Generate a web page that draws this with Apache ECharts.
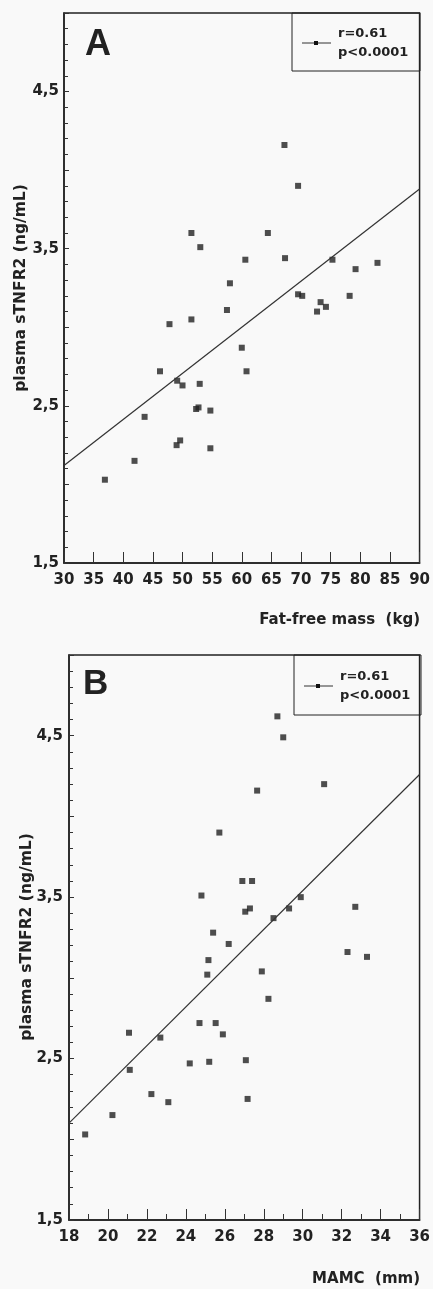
<!DOCTYPE html>
<html>
<head>
<meta charset="utf-8">
<script src="https://cdn.jsdelivr.net/npm/echarts@6/dist/echarts.min.js"></script>
<style>
  html, body { margin: 0; padding: 0; background: #f9f9f9; }
  #chart { width: 433px; height: 1289px; }
</style>
</head>
<body>
<div id="chart"></div>
<script>
// Panel A: fat-free mass (kg) vs plasma sTNFR2 (ng/mL)
const ffmA = [67.2, 69.5, 51.5, 53.0, 64.4, 60.6, 67.3, 75.3, 82.9, 79.2, 58.0, 69.5, 70.2, 78.2,
  73.3, 74.2, 72.7, 57.5, 51.5, 47.8, 60.0, 46.2, 60.8, 49.1, 50.0, 52.9, 52.3, 52.7, 54.7, 43.6,
  49.0, 49.6, 54.7, 41.9, 36.9];
const tnfA = [4.16, 3.90, 3.60, 3.51, 3.60, 3.43, 3.44, 3.43, 3.41, 3.37, 3.28, 3.21, 3.20, 3.20,
  3.16, 3.13, 3.10, 3.11, 3.05, 3.02, 2.87, 2.72, 2.72, 2.66, 2.63, 2.64, 2.48, 2.49, 2.47, 2.43,
  2.25, 2.28, 2.23, 2.15, 2.03];
const fitA = [[30, 2.12], [90, 3.88]];

// Panel B: mid-arm muscle circumference (mm) vs plasma sTNFR2 (ng/mL)
const mamcB = [28.7, 29.0, 31.1, 27.66, 25.72, 26.9, 27.4, 24.8, 29.9, 27.05, 27.29, 29.3, 32.7,
  28.5, 25.4, 26.2, 32.3, 33.3, 25.16, 27.9, 25.1, 28.24, 24.7, 25.53, 21.08, 25.9, 22.69, 24.2,
  25.2, 27.08, 21.12, 22.23, 23.1, 27.17, 20.23, 18.83];
const tnfB = [4.62, 4.49, 4.20, 4.16, 3.90, 3.60, 3.60, 3.51, 3.50, 3.41, 3.43, 3.43, 3.44, 3.37,
  3.28, 3.21, 3.16, 3.13, 3.11, 3.04, 3.02, 2.87, 2.72, 2.72, 2.66, 2.65, 2.63, 2.47, 2.48, 2.49,
  2.43, 2.28, 2.23, 2.25, 2.15, 2.03];
const fitB = [[18, 2.10], [36, 4.26]];

// Labelled y ticks (decimal comma)
const yTickValues = [1.5, 2.5, 3.5, 4.5];
const yTickText = ['1,5', '2,5', '3,5', '4,5'];
const legendText = ['r=0.61', 'p<0.0001'];
const panelLetters = ['A', 'B'];
const yTitle = 'plasma sTNFR2 (ng/mL)';
const xTitles = ['Fat-free mass  (kg)', 'MAMC  (mm)'];

const INK = '#222';
const tickFont = { fontFamily: 'DejaVu Sans', fontWeight: 'bold', fontSize: 15, color: INK };

function yLabel(v) {
  const i = yTickValues.findIndex(t => Math.abs(t - v) < 1e-6);
  return i < 0 ? '' : yTickText[i];
}

function xAxisCfg(grid, min, max, interval, minor) {
  return {
    gridIndex: grid, type: 'value', min, max, interval,
    axisLine: { show: true, onZero: false, lineStyle: { color: INK, width: 1.5 } },
    axisTick: { show: true, inside: true, length: 11, lineStyle: { color: '#333', width: 1 } },
    minorTick: { show: minor, splitNumber: 2, length: 6, lineStyle: { color: '#333', width: 1 } },
    splitLine: { show: false },
    axisLabel: Object.assign({ margin: 10, showMinLabel: true, showMaxLabel: true }, tickFont)
  };
}

function yAxisCfg(grid, margin) {
  return {
    gridIndex: grid, type: 'value', min: 1.5, max: 5, interval: 0.5,
    axisLine: { show: true, onZero: false, lineStyle: { color: INK, width: 1.5 } },
    axisTick: { show: true, inside: true, length: 5, lineStyle: { color: '#333', width: 1 } },
    minorTick: { show: true, splitNumber: 5, length: 4, lineStyle: { color: '#333', width: 1 } },
    splitLine: { show: false },
    axisLabel: Object.assign({ margin, formatter: yLabel }, tickFont)
  };
}

function pairs(xs, ys) { return xs.map((x, i) => [x, ys[i]]); }

function legendBox(x, y, w, h) {
  const cy = y + h / 2 + 1;
  return [
    { type: 'rect', shape: { x, y, width: w, height: h },
      style: { fill: 'none', stroke: INK, lineWidth: 1 } },
    { type: 'line', shape: { x1: x + 10, y1: cy, x2: x + 39, y2: cy },
      style: { stroke: '#333', lineWidth: 1 } },
    { type: 'rect', shape: { x: x + 22, y: cy - 2, width: 4, height: 4 },
      style: { fill: '#111' } },
    { type: 'text', x: x + 46, y: cy - 9,
      style: { text: legendText[0], font: 'bold 13px "DejaVu Sans"', fill: INK,
        textAlign: 'left', textVerticalAlign: 'middle' } },
    { type: 'text', x: x + 46, y: cy + 10,
      style: { text: legendText[1], font: 'bold 13px "DejaVu Sans"', fill: INK,
        textAlign: 'left', textVerticalAlign: 'middle' } }
  ];
}

const chart = echarts.init(document.getElementById('chart'), null, { renderer: 'canvas' });

chart.setOption({
  backgroundColor: '#f9f9f9',
  animation: false,
  grid: [
    { left: 64, top: 13, width: 356, height: 550, show: true, borderColor: INK, borderWidth: 1.5 },
    { left: 69, top: 655, width: 352, height: 565, show: true, borderColor: INK, borderWidth: 1.5 }
  ],
  xAxis: [xAxisCfg(0, 30, 90, 5, false), xAxisCfg(1, 18, 36, 2, true)],
  yAxis: [yAxisCfg(0, 5), yAxisCfg(1, 6)],
  series: [
    { type: 'scatter', xAxisIndex: 0, yAxisIndex: 0, data: pairs(ffmA, tnfA),
      symbol: 'rect', symbolSize: 6, itemStyle: { color: '#222' } },
    { type: 'line', xAxisIndex: 0, yAxisIndex: 0, data: fitA, symbol: 'none',
      lineStyle: { color: '#333', width: 1.2 } },
    { type: 'scatter', xAxisIndex: 1, yAxisIndex: 1, data: pairs(mamcB, tnfB),
      symbol: 'rect', symbolSize: 6, itemStyle: { color: '#222' } },
    { type: 'line', xAxisIndex: 1, yAxisIndex: 1, data: fitB, symbol: 'none',
      lineStyle: { color: '#333', width: 1.2 } }
  ],
  graphic: [
    ...legendBox(292, 13, 128, 58),
    ...legendBox(294, 655, 127, 60),
    { type: 'text', x: 85, y: 45,
      style: { text: panelLetters[0], font: 'bold 36px "Liberation Sans"', fill: INK,
        textAlign: 'left', textVerticalAlign: 'middle' } },
    { type: 'text', x: 83, y: 684,
      style: { text: panelLetters[1], font: 'bold 35px "Liberation Sans"', fill: INK,
        textAlign: 'left', textVerticalAlign: 'middle' } },
    { type: 'text', x: 21, y: 288, rotation: Math.PI / 2,
      style: { text: yTitle, font: 'bold 15.5px "DejaVu Sans"', fill: INK,
        textAlign: 'center', textVerticalAlign: 'middle' } },
    { type: 'text', x: 27, y: 937, rotation: Math.PI / 2,
      style: { text: yTitle, font: 'bold 15.5px "DejaVu Sans"', fill: INK,
        textAlign: 'center', textVerticalAlign: 'middle' } },
    { type: 'text', x: 420, y: 620,
      style: { text: xTitles[0], font: 'bold 15px "DejaVu Sans"', fill: INK,
        textAlign: 'right', textVerticalAlign: 'middle' } },
    { type: 'text', x: 420, y: 1279,
      style: { text: xTitles[1], font: 'bold 15px "DejaVu Sans"', fill: INK,
        textAlign: 'right', textVerticalAlign: 'middle' } }
  ]
});
</script>
</body>
</html>
